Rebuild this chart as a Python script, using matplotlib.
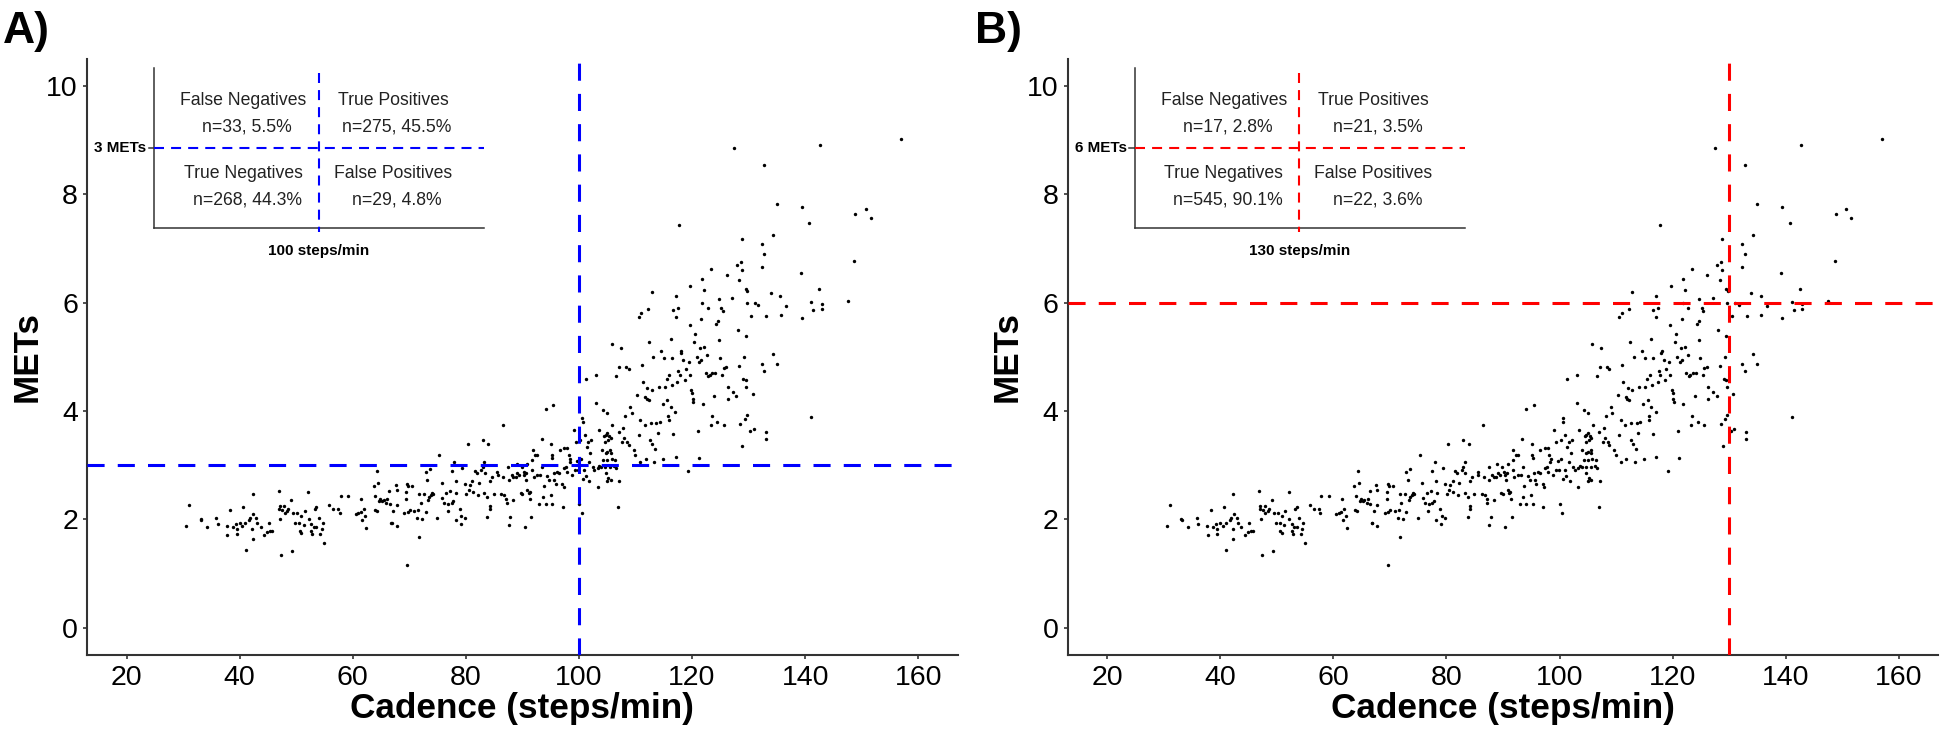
import matplotlib.pyplot as plt

plt.rcParams['font.family'] = ['Liberation Sans', 'DejaVu Sans']

# cadence (steps/min) and METs for every visible point
cadence = [
    31.1, 30.5, 33.1, 33.2, 34.3, 35.9, 36.1, 37.7, 37.8, 38.3, 38.8, 39.3, 39.5, 39.5,
    40.0, 40.4, 40.6, 41.0, 41.1, 41.7, 41.9, 42.2, 42.3, 42.4, 42.3, 42.9, 43.1, 43.7,
    44.3, 44.9, 45.1, 45.4, 45.8, 46.9, 47.1, 47.2, 47.0, 47.5, 47.9, 48.0, 48.4, 48.6,
    47.3, 49.1, 49.3, 49.5, 49.8, 50.2, 50.5, 50.6, 50.9, 50.9, 51.3, 51.5, 52.1, 52.2,
    52.6, 52.7, 52.8, 53.1, 53.3, 53.5, 53.5, 54.0, 54.2, 54.5, 54.7, 55.0, 55.8, 56.5,
    # 57-83
    57.4, 57.7, 57.9, 59.2, 60.5, 61.0, 61.4, 61.5, 61.7, 61.9, 62.2, 62.4, 63.7, 64.0,
    63.9, 64.2, 64.3, 64.5, 64.7, 64.9, 65.2, 65.5, 65.9, 66.1, 66.4, 66.5, 66.8, 66.9,
    67.2, 67.6, 67.8, 67.8, 67.8, 69.1, 69.4, 69.4, 69.6, 69.6, 69.7, 69.8, 70.1, 70.5,
    70.9, 71.4, 71.6, 71.7, 71.7, 72.0, 72.3, 72.6, 72.9, 72.9, 73.2, 73.3, 73.5, 73.6,
    73.9, 74.0, 74.2, 74.9, 75.3, 75.7, 75.8, 76.2, 76.5, 76.8, 76.9, 77.2, 77.5, 77.5,
    77.8, 77.9, 78.2, 78.2, 78.3, 78.9, 79.1, 79.2, 79.4, 79.8, 79.8, 80.1, 80.3, 80.5,
    80.7, 81.1, 81.2, 81.6, 81.9, 82.1, 82.3, 82.7,
    # 83-104
    83.0, 84.0, 83.2, 83.0, 83.3, 83.2, 83.8, 84.2, 84.2, 83.8, 84.2, 84.6, 84.9, 85.5,
    85.6, 86.2, 86.5, 86.6, 86.8, 87.1, 87.2, 87.5, 87.6, 87.8, 87.6, 88.1, 88.4, 88.4,
    88.8, 89.0, 89.1, 89.4, 89.7, 89.9, 90.0, 90.2, 90.3, 90.4, 90.6, 90.7, 90.8, 90.8,
    91.1, 91.3, 91.4, 91.6, 91.7, 91.7, 91.8, 92.0, 92.3, 92.6, 92.6, 93.0, 93.2, 93.4,
    93.5, 93.6, 93.8, 94.1, 94.1, 94.4, 94.7, 95.0, 95.1, 95.2, 95.3, 95.3, 95.4, 95.5,
    95.6, 95.9, 96.2, 96.5, 96.6, 97.0, 97.1, 97.3, 97.4, 97.4, 97.7, 97.9, 97.9, 98.2,
    98.4, 98.5, 98.8, 99.1, 99.3, 99.4, 99.7, 99.9, 100.0, 100.2, 100.3, 100.5, 100.6, 100.7,
    100.7, 100.9, 101.0, 101.2, 101.3, 101.4, 101.6, 101.7, 101.8, 102.0, 102.2, 102.4, 102.7, 103.0,
    103.1, 103.3, 103.3, 103.5, 103.6, 103.9, 104.0,
    # 104-124
    104.3, 105.0, 104.5, 104.7, 105.0, 105.3, 104.6, 105.2, 105.6, 105.9, 105.5, 105.0, 104.7, 105.6,
    104.3, 105.0, 105.8, 106.4, 104.6, 105.5, 106.2, 106.6, 104.7, 105.2, 105.6, 105.0, 107.1, 106.9,
    105.8, 107.4, 106.6, 107.1, 108.4, 108.8, 107.0, 107.6, 107.8, 108.0, 108.2, 108.5, 108.8, 109.1,
    109.3, 109.7, 110.0, 110.3, 110.6, 110.8, 110.8, 111.1, 111.3, 111.6, 111.7, 111.8, 112.0, 112.1,
    112.3, 112.4, 112.6, 112.7, 112.9, 113.0, 113.1, 113.3, 113.5, 113.7, 113.9, 114.1, 114.3, 114.5,
    114.8, 114.9, 115.1, 115.2, 115.5, 115.6, 115.8, 115.9, 116.0, 116.2, 116.2, 116.4, 116.5, 116.6,
    117.0, 117.1, 117.4, 117.6, 117.8, 118.0, 118.1, 118.4, 118.7, 118.9, 119.2, 119.4, 119.6, 119.8,
    120.0, 120.1, 120.2, 120.4, 120.6, 120.8, 121.0, 121.2, 121.3, 121.4, 121.6, 121.9, 122.1, 122.4,
    122.7, 122.9, 123.1, 123.5, 123.3, 123.6, 123.9, 124.1,
    # upper band 110-124
    117.7, 123.4, 121.8, 119.7, 122.2, 112.9, 117.1, 121.8, 117.5, 116.6, 112.2, 111.0, 110.6, 122.8,
    117.1, 121.6, 119.6,
    # 124-157
    127.5, 132.8, 142.7, 157.0, 135.0, 139.4, 140.7, 148.9, 150.7, 151.6, 128.8, 132.3, 134.3, 132.8,
    127.9, 128.6, 128.8, 132.3, 126.1, 128.3, 148.7, 139.2, 124.7, 127.1, 129.5, 129.8, 125.2, 125.4,
    129.7, 131.1, 131.7, 133.9, 135.6, 136.6, 130.5, 133.1, 135.7, 141.1, 142.5, 142.9, 142.9, 141.4,
    139.4, 147.5, 124.6, 124.3, 128.1, 129.5, 124.7, 124.9, 129.2, 125.6, 126.0, 125.3, 128.3, 132.3,
    134.3, 135.0, 132.8, 129.0, 129.5, 126.3, 129.6, 127.2, 127.8, 126.3, 130.7, 124.4, 125.6, 128.5,
    129.3, 129.7, 130.3, 130.9, 133.0, 133.0, 128.9, 141.1,
]
mets = [
    2.27, 1.87, 2.01, 1.99, 1.85, 2.02, 1.91, 1.88, 1.72, 2.17, 1.85, 1.91, 1.82, 1.73,
    1.93, 1.88, 2.23, 1.93, 1.43, 1.99, 2.02, 1.83, 2.47, 2.10, 1.64, 2.02, 1.93, 1.86,
    1.72, 1.77, 1.93, 1.79, 1.79, 2.52, 2.25, 2.01, 2.19, 2.17, 2.25, 2.12, 2.16, 2.20,
    1.35, 2.36, 1.42, 2.11, 1.94, 2.11, 1.93, 1.79, 2.06, 1.74, 1.90, 2.16, 2.51, 2.00,
    1.79, 1.91, 1.73, 1.85, 2.20, 2.22, 1.86, 2.02, 1.73, 1.83, 1.93, 1.56, 2.26, 2.19,
    # 57-83
    2.19, 2.11, 2.44, 2.44, 2.09, 2.11, 2.13, 2.37, 1.98, 2.19, 2.06, 1.84, 2.62, 2.44,
    2.17, 2.15, 2.89, 2.68, 2.33, 2.37, 2.33, 2.36, 2.31, 2.37, 2.53, 2.28, 1.94, 1.93,
    2.16, 2.63, 2.54, 2.27, 1.88, 2.12, 2.38, 2.51, 2.65, 1.16, 2.14, 2.62, 2.17, 2.62,
    2.15, 2.02, 2.17, 2.46, 1.67, 2.30, 2.00, 2.46, 2.87, 2.14, 2.73, 2.36, 2.42, 2.93,
    2.45, 2.49, 2.46, 2.02, 3.19, 2.68, 2.39, 2.31, 2.49, 2.15, 2.28, 2.52, 2.90, 2.31,
    2.33, 3.06, 2.70, 1.99, 2.48, 2.19, 1.91, 2.07, 2.94, 2.03, 2.65, 2.46, 3.39, 2.55,
    2.63, 2.71, 2.50, 2.89, 2.85, 2.45, 2.68, 2.92,
    # 83-104
    3.46, 3.40, 3.06, 2.97, 2.85, 2.48, 2.42, 2.25, 2.19, 2.04, 2.70, 2.79, 2.47, 2.88,
    2.82, 2.47, 3.74, 2.79, 2.45, 2.37, 2.31, 2.97, 2.73, 2.05, 1.90, 2.82, 2.78, 2.36,
    2.79, 3.03, 2.85, 2.82, 2.48, 2.97, 2.47, 2.88, 2.82, 1.85, 2.73, 2.85, 3.03, 2.55,
    2.48, 2.51, 2.37, 2.05, 3.10, 2.91, 3.28, 2.79, 3.19, 3.19, 2.82, 2.28, 2.82, 3.48,
    2.97, 2.42, 2.61, 4.04, 2.28, 2.80, 2.73, 2.45, 3.39, 3.19, 3.14, 2.28, 4.11, 2.85,
    2.73, 2.66, 2.88, 2.85, 3.28, 2.66, 2.23, 2.60, 3.31, 2.94, 2.97, 3.31, 2.88, 3.19,
    3.06, 3.11, 2.82, 3.65, 2.91, 3.43, 3.08, 2.91, 2.28, 3.46, 3.11, 2.11, 3.88, 3.79,
    2.74, 2.91, 3.56, 2.80, 4.60, 3.34, 3.43, 3.06, 2.70, 3.22, 3.46, 2.97, 2.91, 4.14,
    4.66, 2.60, 2.94, 3.65, 2.98, 2.97, 3.28,
    # 104-124
    4.02, 3.96, 3.53, 3.56, 3.59, 3.54, 3.43, 3.47, 3.50, 3.74, 3.28, 3.25, 3.22, 3.22,
    3.10, 3.10, 3.11, 3.10, 2.97, 2.97, 2.98, 2.94, 2.85, 2.76, 2.73, 2.70, 2.71, 2.22,
    5.24, 5.16, 4.65, 4.82, 4.81, 4.77, 3.62, 3.43, 3.68, 3.51, 3.90, 3.43, 3.37, 4.08,
    3.96, 3.28, 3.19, 4.30, 3.56, 3.83, 3.05, 4.85, 4.54, 3.74, 4.26, 3.11, 4.23, 4.42,
    4.20, 5.28, 3.47, 3.77, 4.39, 3.40, 5.00, 3.05, 3.29, 3.77, 3.59, 4.45, 3.80, 5.11,
    4.13, 3.11, 4.97, 4.45, 4.60, 4.20, 3.91, 3.83, 4.66, 4.08, 5.33, 4.48, 4.97, 3.58,
    3.99, 3.16, 4.54, 4.73, 4.66, 5.08, 5.11, 4.94, 4.57, 4.78, 2.90, 4.91, 4.66, 4.39,
    4.33, 4.23, 4.17, 5.28, 5.42, 4.99, 3.64, 3.13, 4.91, 5.16, 4.94, 4.13, 5.19, 4.71,
    5.03, 4.65, 4.66, 3.90, 3.74, 4.70, 4.27, 4.70,
    # upper band 110-124
    7.44, 6.62, 6.44, 6.31, 6.23, 6.20, 6.12, 5.99, 5.91, 5.86, 5.89, 5.81, 5.74, 5.90,
    5.73, 5.69, 5.58,
    # 124-157
    8.86, 8.54, 8.92, 9.02, 7.82, 7.76, 7.48, 7.64, 7.73, 7.56, 7.17, 7.09, 7.25, 6.90,
    6.70, 6.76, 6.61, 6.65, 6.52, 6.41, 6.77, 6.55, 6.07, 6.09, 6.26, 6.22, 5.91, 5.85,
    6.00, 5.99, 5.96, 6.17, 6.12, 5.94, 5.76, 5.76, 5.78, 6.01, 6.25, 5.97, 5.88, 5.86,
    5.72, 6.04, 5.67, 5.61, 5.50, 5.38, 5.32, 4.98, 4.99, 4.80, 4.82, 4.67, 4.83, 4.87,
    5.05, 4.87, 4.74, 4.59, 4.57, 4.44, 4.44, 4.35, 4.28, 4.22, 4.32, 3.80, 3.75, 3.76,
    3.86, 3.93, 3.64, 3.66, 3.61, 3.49, 3.35, 3.89,
]

quadrants = ["False Negatives", "True Positives", "True Negatives", "False Positives"]
counts_a = ["n=33, 5.5%", "n=275, 45.5%", "n=268, 44.3%", "n=29, 4.8%"]
counts_b = ["n=17, 2.8%", "n=21, 3.5%", "n=545, 90.1%", "n=22, 3.6%"]

panels = [
    ("A)", 100, 3, "#0000FF", "3 METs", "100 steps/min", counts_a, 0.0447, 0.0015),
    ("B)", 130, 6, "#FF0000", "6 METs", "130 steps/min", counts_b, 0.5486, 0.501),
]

fig = plt.figure(figsize=(19.46, 7.33), dpi=100)

for tag, cut_x, cut_y, col, ylab, xlab, counts, left, tag_x in panels:
    ax = fig.add_axes([left, 0.1067, 0.4475, 0.8129])
    ax.scatter(cadence, mets, s=6, color="black", linewidths=0, zorder=2)
    ax.axvline(cut_x, color=col, lw=2.2, linestyle=(0, (5.6, 4.3)), zorder=3)
    ax.axhline(cut_y, color=col, lw=2.2, linestyle=(0, (5.6, 4.3)), zorder=3)

    # small 2x2 legend box
    ax.plot([24.85, 24.85], [10.33, 7.38], color="#333333", lw=1.1)
    ax.plot([24.85, 83.2], [7.38, 7.38], color="#333333", lw=1.1)
    ax.plot([23.9, 24.85], [8.86, 8.86], color="#333333", lw=1.1)
    ax.plot([24.85, 83.2], [8.86, 8.86], color=col, lw=1.5, linestyle=(0, (4.8, 3.4)))
    ax.plot([54.0, 54.0], [10.24, 7.30], color=col, lw=1.5, linestyle=(0, (4.8, 3.4)))
    ax.text(23.5, 8.86, ylab, ha="right", va="center", fontsize=11, fontweight="bold")
    ax.text(54.0, 7.08, xlab, ha="center", va="top", fontsize=11, fontweight="bold")
    spots = [(40.6, 9.74), (67.1, 9.74), (40.6, 8.39), (67.1, 8.39)]
    for (qx, qy), name, cnt in zip(spots, quadrants, counts):
        ax.text(qx, qy, name, ha="center", va="center", fontsize=12.7, color="#222222")
        ax.text(qx + 0.7, qy - 0.5, cnt, ha="center", va="center", fontsize=12.7, color="#222222")

    ax.set_xlim(13, 167)
    ax.set_ylim(-0.5, 10.5)
    ax.set_xticks(range(20, 161, 20))
    ax.set_yticks(range(0, 11, 2))
    for s in ["top", "right"]:
        ax.spines[s].set_visible(False)
    for s in ["left", "bottom"]:
        ax.spines[s].set_linewidth(1.5)
        ax.spines[s].set_color("#333333")
    ax.tick_params(labelsize=20.5, length=3, width=1.2, color="#333333")
    ax.tick_params(axis="y", pad=3.5)
    ax.tick_params(axis="x", pad=4)
    ax.set_xlabel("Cadence (steps/min)", fontsize=25.3, fontweight="bold")
    ax.set_ylabel("METs", fontsize=25.3, fontweight="bold")
    ax.xaxis.set_label_coords(0.5, -0.062)
    ax.yaxis.set_label_coords(-0.05, 0.5)
    fig.text(tag_x, 0.941, tag, fontsize=32, fontweight="bold", ha="left", va="baseline")

fig.savefig("out.png", dpi=100)
